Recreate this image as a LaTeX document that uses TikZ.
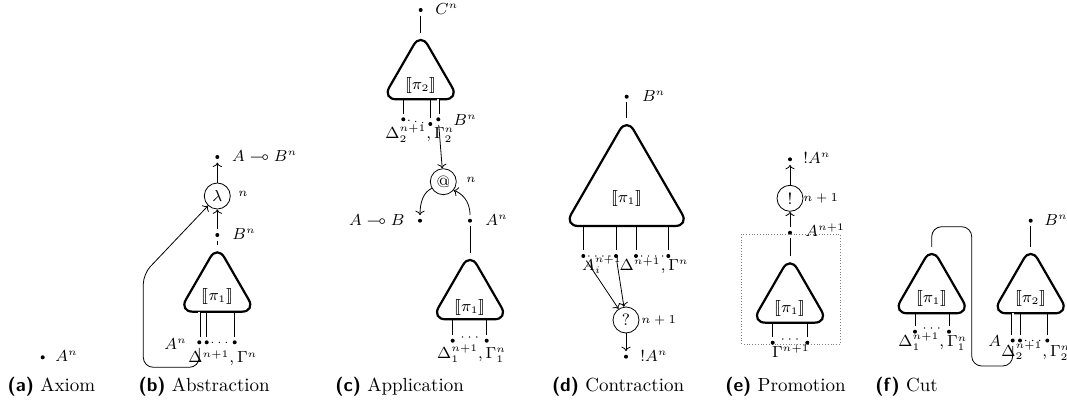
\documentclass[tikz,border=0pt]{standalone}
\usepackage{amssymb}
\usepackage{stmaryrd}
\usetikzlibrary{shapes.geometric,arrows.meta}
\newcommand\drawtri[1]{\draw[triline] (#1.side 2) -- (#1.corner 3) -- (#1.corner 1) -- (#1.corner 2) -- cycle;}
\begin{document}
\begin{tikzpicture}[x=0.5pt,y=-0.5pt,
  >={To[length=2.2pt,width=4.6pt]},
  lab/.style={font=\fontsize{7.8}{9.4}\selectfont, inner sep=0pt},
  sml/.style={font=\fontsize{6}{7}\selectfont, inner sep=0pt},
  captext/.style={font=\fontsize{9.5}{11}\selectfont, inner sep=0pt, anchor=base west},
  dotnode/.style={circle, fill, inner sep=0pt, minimum size=2pt, outer sep=1.8pt},
  opnode/.style={circle, draw, inner sep=0pt, minimum size=13pt, font=\fontsize{8.2}{10}\selectfont},
  trinode/.style={regular polygon, regular polygon sides=3, inner sep=0pt, outer sep=0pt, minimum size=44.3pt},
  bigtri/.style={trinode, minimum size=72pt},
  triline/.style={line width=1.1pt, rounded corners=7pt},
  dbl/.style={double, double distance=0.9pt},
  dotl/.style={line width=0.7pt, dash pattern=on 0pt off 3.5pt, line cap=round},
]
\useasboundingbox (0,0) rectangle (1067,412);

% ---------- (a) Axiom
\node[dotnode] (aA) at (42.7,357.3) {};
\node[lab, anchor=base west] (aAl) at (55,361.3) {$A^n$};

% ---------- (b) Abstraction
\node[dotnode] (bTop) at (217.3,157) {};
\node[lab, anchor=base west] (bTopl) at (231.7,161) {$A\multimap B^n$};
\node[opnode] (lam) at (217.3,196) {$\lambda$};
\node[sml, anchor=west] (lamn) at (238,194) {$n$};
\node[dotnode] (bB) at (217.3,235) {};
\node[lab, anchor=base west] (bBl) at (232,239) {$B^n$};
\node[trinode] (bT) at (217.3,289.55) {};
\drawtri{bT}
\node[lab] (bTl) at (217.3,296) {$\llbracket\pi_1\rrbracket$};
\node[dotnode] (bA) at (199.3,342.3) {};
\node[dotnode] (bD) at (206.7,342.3) {};
\node[dotnode] (bG) at (234.7,342.3) {};
\node[lab, anchor=base west] (bAl) at (164,349) {$A^n$};
\node[lab, anchor=base west] (bDl) at (188,362.7) {$\Delta^{n+1},\Gamma^n$};
\coordinate (b1) at (199.3,367.3);
\coordinate (b2) at (143.3,367.3);
\coordinate (b3) at (143.3,274);
\draw[->] (lam) -- (bTop);
\draw[->] (bB) -- (lam);
\draw (bB) -- (bT.north);
\draw[dbl] (bT.south -| bA) -- (bA);
\draw (bT.south -| bD) -- (bD);
\draw (bT.south -| bG) -- (bG);
\draw[dotl] (bD) -- (bG);
\draw[->, rounded corners=5pt] (bA) -- (b1) -- (b2) -- (b3) -- (lam);

% ---------- (c) Application
\node[dotnode] (cC) at (420.7,10) {};
\node[lab, anchor=base west] (cCl) at (435,14) {$C^n$};
\node[trinode] (cT) at (420.7,77.15) {};
\drawtri{cT}
\node[lab] (cTl) at (420.7,86) {$\llbracket\pi_2\rrbracket$};
\node[dotnode] (cD) at (403.3,119.3) {};
\node[dotnode] (cG) at (430.3,124) {};
\node[dotnode] (cB) at (438.3,119.3) {};
\node[lab, anchor=base west] (cBl) at (453,125) {$B^n$};
\node[lab, anchor=base west] (cDl) at (385,138.3) {$\Delta_2^{n+1},\Gamma_2^n$};
\node[opnode] (at) at (443.3,181.7) {@};
\node[sml, anchor=west] (atn) at (466,180) {$n$};
\node[dotnode] (cAB) at (420,220.7) {};
\node[lab, anchor=base east] (cABl) at (405,225) {$A\multimap B$};
\node[dotnode] (cA) at (470,220.7) {};
\node[lab, anchor=base west] (cAl) at (485,225) {$A^n$};
\node[trinode] (cT2) at (470,297.15) {};
\drawtri{cT2}
\node[lab] (cT2l) at (470,307.3) {$\llbracket\pi_1\rrbracket$};
\node[dotnode] (cD1) at (452.7,340.7) {};
\node[dotnode] (cG1) at (486.7,340.7) {};
\node[sml] (cdots) at (469.7,338) {$\cdots$};
\node[lab, anchor=base west] (cD1l) at (436.7,358.3) {$\Delta_1^{n+1},\Gamma_1^n$};
\coordinate (cc1) at (424,192);
\coordinate (cc2) at (420,201);
\coordinate (cc3) at (470,200);
\coordinate (cc4) at (461,193);
\draw (cC) -- (cT.north);
\draw (cT.south -| cD) -- (cD);
\draw (cT.south -| cG) -- (cG);
\draw[dbl] (cT.south -| cB) -- (cB);
\draw[dotl] (cD) -- (cG);
\draw[->] (cB) -- (at);
\draw[->] (at.-150) .. controls (cc1) and (cc2) .. (cAB);
\draw[->] (cA) .. controls (cc3) and (cc4) .. (at.-40);
\draw (cA) -- (cT2.north);
\draw (cT2.south -| cD1) -- (cD1);
\draw (cT2.south -| cG1) -- (cG1);

% ---------- (d) Contraction
\node[dotnode] (dB) at (626.7,96.7) {};
\node[lab, anchor=base west] (dBl) at (641.7,101) {$B^n$};
\node[bigtri] (dT) at (626.7,190) {};
\drawtri{dT}
\node[lab] (dTl) at (626.7,198.3) {$\llbracket\pi_1\rrbracket$};
\node[dotnode] (dA1) at (583.3,256) {};
\node[dotnode] (dA2) at (616,256) {};
\node[dotnode] (dD) at (636,256) {};
\node[dotnode] (dG) at (668.3,256) {};
\node[lab, anchor=base west] (dAl) at (581.7,270) {$A_i^{n+1}$};
\node[lab, anchor=base west] (dDl) at (619.3,270) {$\Delta^{n+1},\Gamma^n$};
\node[opnode] (q) at (626,320) {?};
\node[sml, anchor=west] (qn) at (641,320.7) {$n+1$};
\node[dotnode] (dBang) at (626,356.7) {};
\node[lab, anchor=base west] (dBangl) at (640,361) {$!A^n$};
\draw (dB) -- (dT.north);
\draw (dT.south -| dA1) -- (dA1);
\draw (dT.south -| dA2) -- (dA2);
\draw (dT.south -| dD) -- (dD);
\draw (dT.south -| dG) -- (dG);
\draw[dotl] (dA1) -- (dA2);
\draw[dotl] (dD) -- (dG);
\draw[->] (dA1) -- (q);
\draw[->] (dA2) -- (q);
\draw[->] (q) -- (dBang);

% ---------- (e) Promotion
\draw[gray, densely dotted, line width=0.4pt] (741.7,234) rectangle (840,344);
\node[dotnode] (eTop) at (790,159.3) {};
\node[lab, anchor=base west] (eTopl) at (803,163.5) {$!A^n$};
\node[opnode] (bang) at (790,198.3) {!};
\node[sml, anchor=west] (bangn) at (803,198.3) {$n+1$};
\node[dotnode] (eA) at (790,232.7) {};
\node[lab, anchor=base west] (eAl) at (805,236.5) {$A^{n+1}$};
\node[trinode] (eT) at (790,300.55) {};
\drawtri{eT}
\node[lab] (eTl) at (790,308.3) {$\llbracket\pi_1\rrbracket$};
\node[dotnode] (eG1) at (772.7,342.7) {};
\node[dotnode] (eG2) at (807.3,342.7) {};
\node[sml] (edots) at (790,340) {$\cdots$};
\node[lab, anchor=base west] (eGl) at (771.7,357.3) {$\Gamma^{n+1}$};
\draw[->] (bang) -- (eTop);
\draw[->] (eA) -- (bang);
\draw (eA) -- (eT.north);
\draw (eT.south -| eG1) -- (eG1);
\draw (eT.south -| eG2) -- (eG2);

% ---------- (f) Cut
\node[dotnode] (fB) at (1030.7,220.7) {};
\node[lab, anchor=base west] (fBl) at (1044,225) {$B^n$};
\node[trinode] (fT1) at (931.7,291.15) {};
\drawtri{fT1}
\node[lab] (fT1l) at (931.7,298.3) {$\llbracket\pi_1\rrbracket$};
\node[trinode] (fT2) at (1030.7,291.15) {};
\drawtri{fT2}
\node[lab] (fT2l) at (1030.7,298.3) {$\llbracket\pi_2\rrbracket$};
\node[dotnode] (fD1) at (915,331.7) {};
\node[dotnode] (fG1) at (949,331.7) {};
\node[sml] (fdots) at (931.7,329) {$\cdots$};
\node[lab, anchor=base west] (fD1l) at (898,346.7) {$\Delta_1^{n+1},\Gamma_1^n$};
\node[dotnode] (fA) at (1012.7,340.5) {};
\node[dotnode] (fD2) at (1020,340.5) {};
\node[dotnode] (fG2) at (1047.3,340.5) {};
\node[lab, anchor=base west] (fAl) at (988,346.7) {$A$};
\node[lab, anchor=base west] (fD2l) at (1001,356) {$\Delta_2^{n+1},\Gamma_2^n$};
\coordinate (f1) at (931.7,226.7);
\coordinate (f2) at (971.7,226.7);
\coordinate (f3) at (971.7,366);
\coordinate (f4) at (1012.7,366);
\draw (fB) -- (fT2.north);
\draw (fT1.south -| fD1) -- (fD1);
\draw (fT1.south -| fG1) -- (fG1);
\draw[dbl] (fT2.south -| fA) -- (fA);
\draw (fT2.south -| fD2) -- (fD2);
\draw (fT2.south -| fG2) -- (fG2);
\draw[dotl] (fD2) -- (fG2);
\draw[rounded corners=5pt] (fT1.north) -- (f1) -- (f2) -- (f3) -- (f4) -- (fA);

% ---------- captions
\node[captext] (capa) at (7.3,391) {\textsf{\bfseries (a)} Axiom};
\node[captext] (capb) at (138.3,391) {\textsf{\bfseries (b)} Abstraction};
\node[captext] (capc) at (335,391) {\textsf{\bfseries (c)} Application};
\node[captext] (capd) at (551.7,391) {\textsf{\bfseries (d)} Contraction};
\node[captext] (cape) at (725,391) {\textsf{\bfseries (e)} Promotion};
\node[captext] (capf) at (875,391) {\textsf{\bfseries (f)} Cut};
\end{tikzpicture}
\end{document}
